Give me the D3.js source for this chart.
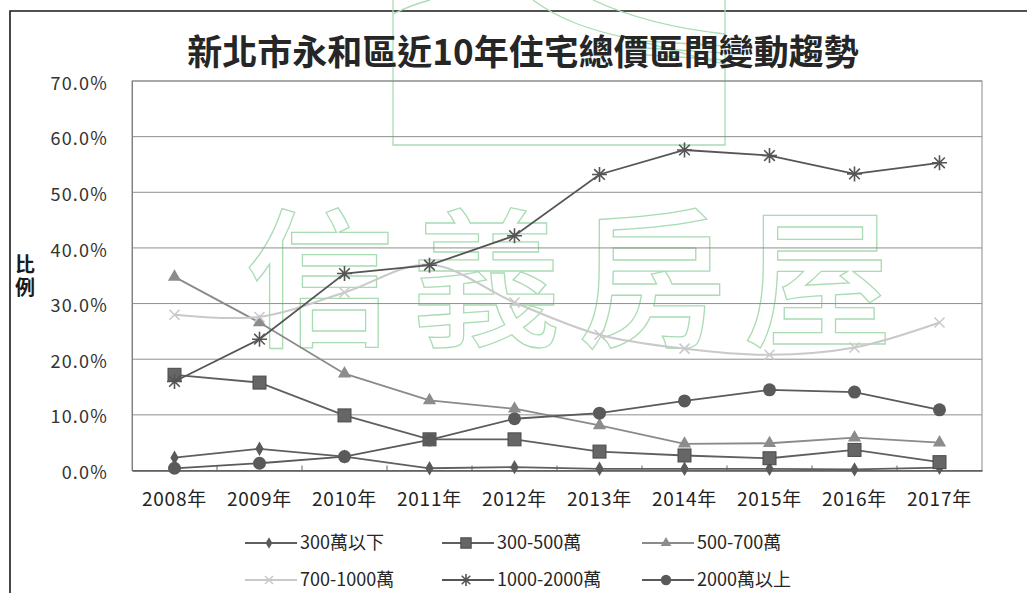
<!DOCTYPE html>
<html>
<head>
<meta charset="utf-8">
<script src="https://cdn.jsdelivr.net/npm/d3@7"></script>
<style>
  html, body { margin: 0; padding: 0; background: #fff; }
  svg { display: block; }
  text { font-family: "Noto Sans CJK TC", "Noto Sans", sans-serif; }
</style>
</head>
<body>
<svg id="chart" width="1027" height="593"></svg>
<script>
// ---- data ----
const years = ["2008年", "2009年", "2010年", "2011年", "2012年", "2013年", "2014年", "2015年", "2016年", "2017年"];
const seriesNames = ["300萬以下", "300-500萬", "500-700萬", "700-1000萬", "1000-2000萬", "2000萬以上"];
const under300   = [2.3, 3.9, 2.5, 0.4, 0.6, 0.3, 0.3, 0.3, 0.2, 0.5];
const r300to500  = [17.2, 15.8, 9.9, 5.6, 5.6, 3.4, 2.7, 2.2, 3.7, 1.5];
const r500to700  = [34.8, 26.6, 17.4, 12.6, 11.1, 8.1, 4.8, 4.9, 5.9, 5.0];
const r700to1000 = [28.0, 27.6, 32.0, 37.0, 30.2, 24.4, 21.9, 20.8, 22.1, 26.6];
const r1000to2000 = [16.0, 23.6, 35.4, 36.9, 42.2, 53.2, 57.6, 56.6, 53.3, 55.3];
const over2000   = [0.4, 1.3, 2.5, 5.5, 9.3, 10.3, 12.5, 14.5, 14.1, 10.9];
const yTicks = [0, 10, 20, 30, 40, 50, 60, 70];
const titleText = "新北市永和區近10年住宅總價區間變動趨勢";
const yAxisTitle = "比例";
const watermark = "信義房屋";

const allSeries = [under300, r300to500, r500to700, r700to1000, r1000to2000, over2000];
const styles = [
  { line: "#5f5f5f", fill: "#5a5a5a", marker: "diamond", curve: d3.curveLinear },
  { line: "#5f5f5f", fill: "#666666", marker: "square",  curve: d3.curveLinear },
  { line: "#8a8a8a", fill: "#8c8c8c", marker: "triangle", curve: d3.curveLinear },
  { line: "#c9c9c9", fill: "#c9c9c9", marker: "cross",   curve: d3.curveCatmullRom },
  { line: "#555555", fill: "#555555", marker: "star",    curve: d3.curveLinear },
  { line: "#5a5a5a", fill: "#5a5a5a", marker: "circle",  curve: d3.curveLinear }
];

const svg = d3.select("#chart");
const plot = { left: 132, right: 982, top: 81, bottom: 470.5 };

const x = d3.scaleBand().domain(years).range([plot.left, plot.right]);
const y = d3.scaleLinear().domain([0, 70]).range([plot.bottom, plot.top]);

// ---- outer frame (top and left edges) ----
svg.append("path")
  .attr("d", "M10,593 L10,11 L1027,11")
  .attr("fill", "none").attr("stroke", "#1a1a1a").attr("stroke-width", 1.6);

// ---- watermark ----
const wm = svg.append("g").attr("fill", "none").attr("stroke", "#a9dcb3").attr("stroke-width", 1.3);
// logo outline at the top
wm.append("path").attr("d", "M393,0 L393,145 L725,145 L725,0");
wm.append("path").attr("d", "M393,14 C405,8 418,3 430,0");
wm.append("path").attr("d", "M533,0 C560,20 590,30 627,38 C660,46 690,56 725,64");
wm.append("path").attr("d", "M593,0 C625,15 670,28 725,34");
wm.append("path").attr("d", "M627,40 L725,46 M629,47 L725,53 M631,54 L725,60");
wm.append("text")
  .attr("x", 245).attr("y", 335)
  .attr("font-size", 150).attr("font-weight", 500)
  .attr("letter-spacing", 16)
  .text(watermark);

// ---- title ----
svg.append("text")
  .attr("x", 523).attr("y", 65)
  .attr("text-anchor", "middle")
  .attr("font-size", 35).attr("font-weight", 700)
  .attr("fill", "#262626")
  .text(titleText);

// ---- gridlines ----
svg.append("g")
  .selectAll("line").data(yTicks.filter(d => d > 0))
  .join("line")
  .attr("x1", plot.left).attr("x2", plot.right)
  .attr("y1", d => y(d)).attr("y2", d => y(d))
  .attr("stroke", "#8f8f8f").attr("stroke-width", 1);

// plot area border
svg.append("rect")
  .attr("x", plot.left).attr("y", plot.top)
  .attr("width", plot.right - plot.left).attr("height", plot.bottom - plot.top)
  .attr("fill", "none").attr("stroke", "#8a8a8a").attr("stroke-width", 1);

// ---- y axis ----
const yAxis = d3.axisLeft(y).tickValues(yTicks).tickSize(0).tickPadding(24)
  .tickFormat(d => d3.format(".1f")(d) + "%");
const gy = svg.append("g").attr("transform", `translate(${plot.left},0)`).call(yAxis);
gy.select(".domain").attr("stroke", "#808080");
gy.selectAll("text")
  .attr("font-size", 18).attr("fill", "#333")
  .attr("letter-spacing", 1.2)
  .attr("dy", "0.45em")
  .style("font-family", "'Noto Sans CJK TC', sans-serif");

// ---- x axis ----
const xAxis = d3.axisBottom(x).tickSize(0).tickPadding(22);
const gx = svg.append("g").attr("transform", `translate(0,${plot.bottom})`).call(xAxis);
gx.select(".domain").attr("stroke", "#555").attr("stroke-width", 1.5);
gx.selectAll("text")
  .attr("font-size", 19).attr("fill", "#222")
  .attr("letter-spacing", 0.8)
  .style("font-family", "'Noto Sans CJK TC', sans-serif");
// inward tick marks at category boundaries
svg.append("g")
  .selectAll("line").data(years.slice(1))
  .join("line")
  .attr("x1", d => x(d)).attr("x2", d => x(d))
  .attr("y1", plot.bottom).attr("y2", plot.bottom - 5)
  .attr("stroke", "#666").attr("stroke-width", 1);

// ---- y axis title (stacked vertically) ----
svg.append("text")
  .attr("x", 25).attr("y", 254)
  .attr("writing-mode", "tb")
  .attr("letter-spacing", 3)
  .attr("font-size", 20).attr("font-weight", 700).attr("fill", "#1a1a1a")
  .text(yAxisTitle);

// ---- markers ----
function drawMarker(g, type, cx, cy, s, color) {
  if (type === "diamond") {
    g.append("path").attr("d", d3.symbol(d3.symbolDiamond, 60 * s * s)())
      .attr("transform", `translate(${cx},${cy})`).attr("fill", color);
  } else if (type === "square") {
    g.append("rect").attr("x", cx - 6.5 * s).attr("y", cy - 6.5 * s)
      .attr("width", 13 * s).attr("height", 13 * s)
      .attr("fill", color).attr("stroke", "#4a4a4a").attr("stroke-width", 1);
  } else if (type === "triangle") {
    g.append("path").attr("d", d3.symbol(d3.symbolTriangle, 75 * s * s)())
      .attr("transform", `translate(${cx},${cy})`).attr("fill", color);
  } else if (type === "circle") {
    g.append("circle").attr("cx", cx).attr("cy", cy).attr("r", 6.5 * s).attr("fill", color);
  } else if (type === "cross") {
    const r = 5 * s;
    g.append("path").attr("d", `M${cx - r},${cy - r}L${cx + r},${cy + r}M${cx - r},${cy + r}L${cx + r},${cy - r}`)
      .attr("stroke", color).attr("stroke-width", 1.5);
  } else if (type === "star") {
    const r = 7.5 * s;
    const d = [0, 45, 90, 135].map(a => {
      const rad = a * Math.PI / 180;
      const dx = r * Math.cos(rad), dy = r * Math.sin(rad);
      return `M${cx - dx},${cy - dy}L${cx + dx},${cy + dy}`;
    }).join("");
    g.append("path").attr("d", d).attr("stroke", color).attr("stroke-width", 1.6);
  }
}

// ---- series ----
const lines = svg.append("g");
allSeries.forEach((vals, i) => {
  const st = styles[i];
  const g = lines.append("g");
  const line = d3.line()
    .x((d, j) => x(years[j]) + x.bandwidth() / 2)
    .y(d => y(d))
    .curve(st.curve);
  g.append("path").attr("d", line(vals))
    .attr("fill", "none").attr("stroke", st.line).attr("stroke-width", i === 3 ? 2 : 1.8);
  vals.forEach((v, j) => drawMarker(g, st.marker, x(years[j]) + x.bandwidth() / 2, y(v), 1, st.fill));
});

// ---- legend ----
const legendPos = [
  { x: 245, y: 543 }, { x: 442, y: 543 }, { x: 642, y: 543 },
  { x: 245, y: 580 }, { x: 442, y: 580 }, { x: 642, y: 580 }
];
const legend = svg.append("g");
seriesNames.forEach((name, i) => {
  const p = legendPos[i], st = styles[i];
  const g = legend.append("g");
  g.append("line").attr("x1", p.x).attr("x2", p.x + 52).attr("y1", p.y).attr("y2", p.y)
    .attr("stroke", st.line).attr("stroke-width", 1.8);
  drawMarker(g, st.marker, p.x + 24, p.y, 0.8, st.fill);
  g.append("text").attr("x", p.x + 55).attr("y", p.y).attr("dy", "0.36em")
    .attr("font-size", 18).attr("fill", "#262626")
    .text(name);
});
</script>
</body>
</html>
